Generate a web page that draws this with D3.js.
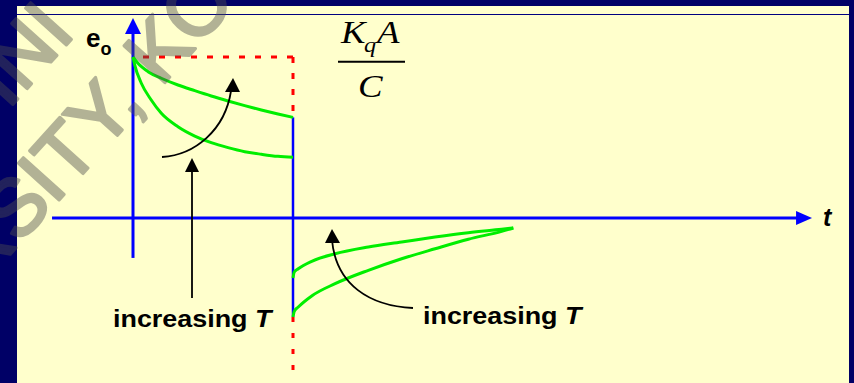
<!DOCTYPE html>
<html>
<head>
<meta charset="utf-8">
<script src="https://cdn.jsdelivr.net/npm/d3@7"></script>
<style>
  body { margin: 0; background: #000066; }
  svg { display: block; }
</style>
</head>
<body>
<div id="container"></div>
<script>
// step response of the charge amplifier: decay during the pulse, undershoot after it
// time in units of pulse length, output in units of Kq*A/C

const slowTimes = [0, 0.031, 0.094, 0.177, 0.281, 0.386, 0.489, 0.594, 0.698, 0.802, 0.906, 1.0]
const slowDecay = [1.0, 0.961, 0.909, 0.868, 0.826, 0.791, 0.758, 0.727, 0.698, 0.671, 0.646, 0.625]

const fastTimes = [0, 0.011, 0.052, 0.114, 0.177, 0.281, 0.386, 0.489, 0.594, 0.698, 0.802, 0.906, 1.0]
const fastDecay = [1.0, 0.950, 0.837, 0.733, 0.650, 0.567, 0.509, 0.468, 0.437, 0.412, 0.396, 0.383, 0.377]

const recoveryTimes = [1.0, 1.008, 1.033, 1.117, 1.263, 1.471, 1.679, 1.888, 2.096, 2.304, 2.377]
const slowRecovery = [-0.373, -0.335, -0.315, -0.269, -0.222, -0.180, -0.149, -0.118, -0.091, -0.070, -0.062]
const fastRecovery = [-0.615, -0.580, -0.553, -0.484, -0.408, -0.325, -0.253, -0.191, -0.132, -0.083, -0.062]

const pulseEnd = 1.0
const pulseLevels = [1.0, 0.625, -0.615, -0.945]   // dashed / solid / dashed segments at t = 1
const tAxis = [-0.506, 4.244]
const eAxis = [-0.248, 1.242]

const width = 854, height = 383

const svg = d3.select("#container")
  .append("svg")
  .attr("width", width)
  .attr("height", height)

// slide frame
svg.append("rect").attr("width", width).attr("height", height).attr("fill", "#000066")
svg.append("rect")
  .attr("x", 17).attr("y", 6)
  .attr("width", 832).attr("height", height - 6)
  .attr("fill", "#ffffcc")
svg.append("line")
  .attr("x1", 17).attr("x2", 849)
  .attr("y1", 14.5).attr("y2", 14.5)
  .attr("stroke", "#000080").attr("stroke-width", 1.2)

const xScale = d3.scaleLinear().domain([0, 1]).range([133, 293])
const yScale = d3.scaleLinear().domain([0, 1]).range([218, 57])

const blue = "#0000ff", green = "#00ee00", red = "#ff0000"

// axes with arrow heads
svg.append("line")
  .attr("x1", xScale(tAxis[0])).attr("x2", xScale(tAxis[1]) - 10)
  .attr("y1", yScale(0)).attr("y2", yScale(0))
  .attr("stroke", blue).attr("stroke-width", 3)
svg.append("path")
  .attr("d", `M${xScale(tAxis[1])},${yScale(0)} l-16,-7 l0,14 z`)
  .attr("fill", blue)

svg.append("line")
  .attr("x1", xScale(0)).attr("x2", xScale(0))
  .attr("y1", yScale(eAxis[0])).attr("y2", yScale(eAxis[1]) + 10)
  .attr("stroke", blue).attr("stroke-width", 3)
svg.append("path")
  .attr("d", `M${xScale(0)},${yScale(eAxis[1])} l-8,16 l16,0 z`)
  .attr("fill", blue)

// reference level and pulse edge
svg.append("line")
  .attr("x1", xScale(0)).attr("x2", xScale(pulseEnd))
  .attr("y1", yScale(pulseLevels[0])).attr("y2", yScale(pulseLevels[0]))
  .attr("stroke", red).attr("stroke-width", 3).attr("stroke-dasharray", "6,10")
  .attr("stroke-dashoffset", -10)
svg.append("line")
  .attr("x1", xScale(pulseEnd)).attr("x2", xScale(pulseEnd))
  .attr("y1", yScale(pulseLevels[0])).attr("y2", yScale(pulseLevels[1]))
  .attr("stroke", red).attr("stroke-width", 3).attr("stroke-dasharray", "6,10")
svg.append("line")
  .attr("x1", xScale(pulseEnd)).attr("x2", xScale(pulseEnd))
  .attr("y1", yScale(pulseLevels[1])).attr("y2", yScale(pulseLevels[2]))
  .attr("stroke", blue).attr("stroke-width", 2.5)
svg.append("line")
  .attr("x1", xScale(pulseEnd)).attr("x2", xScale(pulseEnd))
  .attr("y1", yScale(pulseLevels[2])).attr("y2", yScale(pulseLevels[3]))
  .attr("stroke", red).attr("stroke-width", 3).attr("stroke-dasharray", "5,11")

// response curves
const line = d3.line()
  .x(d => xScale(d[0]))
  .y(d => yScale(d[1]))
  .curve(d3.curveMonotoneX)

const curves = [
  d3.zip(slowTimes, slowDecay),
  d3.zip(fastTimes, fastDecay),
  d3.zip(recoveryTimes, slowRecovery),
  d3.zip(recoveryTimes, fastRecovery)
]
svg.append("g")
  .selectAll("path")
  .data(curves)
  .join("path")
  .attr("d", line)
  .attr("fill", "none")
  .attr("stroke", green)
  .attr("stroke-width", 3)

// "increasing T" arrows
const ann = svg.append("g").attr("stroke", "#000").attr("fill", "none").attr("stroke-width", 1.8)
ann.append("path").attr("d", "M162,157 C195,155 225,130 231,91")
ann.append("path").attr("d", "M192,298 L192,170")
ann.append("path").attr("d", "M413,308 C370,306 336,285 332,240")
const heads = svg.append("g").attr("fill", "#000")
heads.append("path").attr("d", "M233,78 L225,92 L240,92 Z")
heads.append("path").attr("d", "M192,158 L185,172 L199,172 Z")
heads.append("path").attr("d", "M332,229 L325,243 L340,243 Z")

// labels
const sans = "'Liberation Sans', Arial, sans-serif"
const serif = "'Liberation Serif', 'Times New Roman', serif"

const eo = svg.append("text")
  .attr("x", 86).attr("y", 47)
  .attr("font-family", sans).attr("font-weight", "bold").attr("font-size", 26)
eo.append("tspan").text("e")
eo.append("tspan").attr("font-size", 18).attr("dy", 8).text("o")

svg.append("text")
  .attr("x", 823).attr("y", 226)
  .attr("font-family", sans).attr("font-weight", "bold").attr("font-style", "italic")
  .attr("font-size", 25)
  .text("t")

const incLabels = [[113, 327], [423, 324]]
incLabels.forEach(p => {
  const t = svg.append("text")
    .attr("transform", `translate(${p[0]},${p[1]}) scale(1.17,1)`)
    .attr("font-family", sans).attr("font-weight", "bold").attr("font-size", 23)
  t.append("tspan").text("increasing ")
  t.append("tspan").attr("font-style", "italic").text("T")
})

// Kq A / C
const frac = svg.append("g")
  .attr("font-family", serif).attr("font-style", "italic").attr("fill", "#000")
frac.append("text").attr("transform", "translate(341,43) scale(1.15,1)").attr("font-size", 32).text("K")
frac.append("text").attr("transform", "translate(364,52) scale(1.15,1)").attr("font-size", 21).text("q")
frac.append("text").attr("transform", "translate(377,43) scale(1.15,1)").attr("font-size", 32).text("A")
frac.append("line")
  .attr("x1", 338).attr("x2", 405).attr("y1", 61.7).attr("y2", 61.7)
  .attr("stroke", "#000").attr("stroke-width", 2)
frac.append("text").attr("transform", "translate(358,97) scale(1.15,1)").attr("font-size", 32).text("C")

// faint watermark over the top left corner
const wm = svg.append("g")
  .attr("opacity", 0.43)
  .attr("font-family", sans).attr("font-size", 80)
  .attr("fill", "#4f4f4f").attr("stroke", "#4f4f4f").attr("stroke-width", 3)
  .attr("stroke-linejoin", "round")
wm.append("text").attr("transform", "translate(-20,288) rotate(-48)").text("RSITY, KO")
wm.append("text").attr("transform", "translate(8,110) rotate(-48)").text("INI")
</script>
</body>
</html>
